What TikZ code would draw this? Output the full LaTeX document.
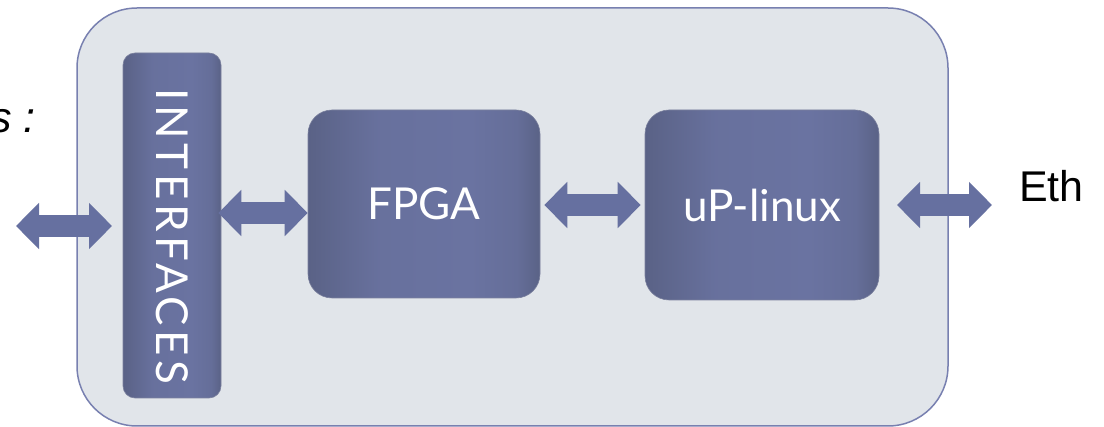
\documentclass[tikz,border=0pt]{standalone}
\usepackage{fontspec}
\setmainfont{Liberation Sans}
\newfontfamily\boxfont{Lato}
\usetikzlibrary{arrows.meta,shadings}
\definecolor{bgbox}{HTML}{E1E5EA}
\definecolor{bgline}{HTML}{7880B0}
\definecolor{darkedge}{HTML}{5A6286}
\definecolor{darkmid}{HTML}{6A73A1}
\definecolor{arrowcol}{HTML}{6670A0}
\pgfdeclarehorizontalshading{boxshade}{100bp}{color(0bp)=(darkedge); color(25bp)=(darkedge); color(40bp)=(darkmid!85!darkedge); color(60bp)=(darkmid); color(70bp)=(darkmid!70!darkedge); color(75bp)=(darkedge); color(100bp)=(darkedge)}
\tikzset{
  outerbox/.style={draw=bgline, line width=1.5pt, fill=bgbox, rounded corners=60pt},
  darkbox/.style={rectangle, rounded corners=24pt, shading=boxshade,
    draw=darkedge!80!white, line width=0.6pt, text=white, font=\boxfont\fontsize{44}{50}\selectfont, inner sep=0pt},
  blockarrow/.style={draw=arrowcol, line width=22pt,
    {Triangle[length=23pt,width=45pt]}-{Triangle[length=23pt,width=45pt]}},
  plaintext/.style={font=\fontsize{43}{48}\selectfont, inner sep=0pt}
}
\begin{document}
\begin{tikzpicture}[x=1pt,y=-1pt]
\useasboundingbox (0,0) rectangle (1104,427);
\fill[white] (0,0) rectangle (1104,427);
\draw[outerbox] (77,8) rectangle (948,426);
\node[darkbox, rounded corners=12pt, rotate=-90, minimum width=345pt, minimum height=98pt] (ifc) at (172,225.5) {\hspace*{22pt}\addfontfeature{LetterSpace=10.5}INTERFACES};
\node[darkbox, minimum width=232pt, minimum height=188pt] (fpga) at (424,204) {FPGA};
\node[darkbox, minimum width=234pt, minimum height=190pt] (up) at (762,205) {uP-linux};
\node[plaintext, anchor=base west] (eth) at (1019,202) {Eth};
\node[plaintext, anchor=base east] (lbl) at (36,133) {\itshape s :};
\coordinate (l1) at (16,226);
\coordinate (l2) at (112,226);
\coordinate (r1) at (897,205);
\coordinate (r2) at (992,205);
\coordinate (m1) at (0,213);
\coordinate (m2) at (0,205);
\draw[blockarrow] (l1) -- (l2);
\draw[blockarrow, shorten <=-3pt] (ifc.north |- m1) -- (fpga.west |- m1);
\draw[blockarrow, shorten <=4pt, shorten >=4pt] (fpga.east |- m2) -- (up.west |- m2);
\draw[blockarrow] (r1) -- (r2);
\end{tikzpicture}
\end{document}
